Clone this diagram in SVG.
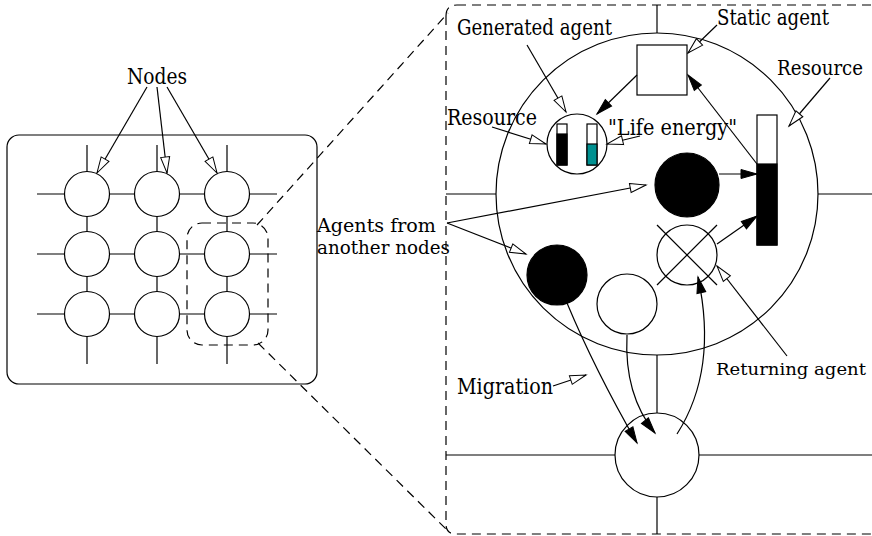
<svg xmlns="http://www.w3.org/2000/svg" width="872" height="536" viewBox="0 0 872 536">
<style>
.s{fill:none;stroke:#000;stroke-width:1.2}
.w{fill:#fff;stroke:#000;stroke-width:1.2}
.b{fill:#000;stroke:#000;stroke-width:1.2}
.d{fill:none;stroke:#000;stroke-width:1.2;stroke-dasharray:9 6}
.af{fill:none;stroke:#000;stroke-width:1.2;marker-end:url(#fa)}
.ao{fill:none;stroke:#000;stroke-width:1.2;marker-end:url(#oa)}
</style>
<defs>
<marker id="fa" markerUnits="userSpaceOnUse" markerWidth="18" markerHeight="10" refX="16" refY="4.5" orient="auto" overflow="visible">
<path d="M0,0 L16,4.5 L0,9 z" fill="#000" stroke="#000" stroke-width="1"/>
</marker>
<marker id="oa" markerUnits="userSpaceOnUse" markerWidth="18" markerHeight="10" refX="16" refY="4.5" orient="auto" overflow="visible">
<path d="M0,0 L16,4.5 L0,9 z" fill="#fff" stroke="#000" stroke-width="1"/>
</marker>
</defs>
<rect width="872" height="536" fill="#fff"/>

<g id="left-panel">
<rect x="7" y="135" width="310" height="249" rx="12" class="s"/>
<g id="grid-lines">
<line x1="37" y1="194" x2="277" y2="194" class="s"/>
<line x1="37" y1="254" x2="277" y2="254" class="s"/>
<line x1="37" y1="314" x2="277" y2="314" class="s"/>
<line x1="87" y1="145" x2="87" y2="364" class="s"/>
<line x1="157" y1="145" x2="157" y2="364" class="s"/>
<line x1="227" y1="145" x2="227" y2="364" class="s"/>
</g>
<g id="n11"><circle cx="87" cy="194" r="22.5" class="w"/></g>
<g id="n12"><circle cx="157" cy="194" r="22.5" class="w"/></g>
<g id="n13"><circle cx="227" cy="194" r="22.5" class="w"/></g>
<g id="n21"><circle cx="87" cy="254" r="22.5" class="w"/></g>
<g id="n22"><circle cx="157" cy="254" r="22.5" class="w"/></g>
<g id="n23"><circle cx="227" cy="254" r="22.5" class="w"/></g>
<g id="n31"><circle cx="87" cy="314" r="22.5" class="w"/></g>
<g id="n32"><circle cx="157" cy="314" r="22.5" class="w"/></g>
<g id="n33"><circle cx="227" cy="314" r="22.5" class="w"/></g>
<rect x="187" y="223" width="81" height="122" rx="15" class="d"/>
<g id="nodes-label" font-family="DejaVu Serif, Liberation Serif, serif" font-size="22"><text x="127" y="84" textLength="60" lengthAdjust="spacingAndGlyphs">Nodes</text></g>
</g>

<g id="zoom-panel">
<path d="M457,5 L872,5 M446,16 L446,524 Q446,534 456,534 L872,534 M446,16 Q446,5 457,5" class="d"/>
<line x1="257" y1="225" x2="448" y2="13" class="d"/>
<line x1="258" y1="343" x2="447" y2="530" class="d"/>
<g id="panel-lines">
<line x1="657" y1="5" x2="657" y2="33" class="s"/>
<line x1="446" y1="194" x2="496" y2="194" class="s"/>
<line x1="818" y1="194" x2="872" y2="194" class="s"/>
<line x1="657" y1="355" x2="657" y2="413" class="s"/>
<line x1="446" y1="455" x2="615" y2="455" class="s"/>
<line x1="699" y1="455" x2="872" y2="455" class="s"/>
<line x1="657" y1="497" x2="657" y2="534" class="s"/>
</g>
<g id="big-node"><circle cx="657" cy="194" r="161" class="s"/></g>
<g id="bottom-node"><circle cx="657" cy="455" r="42" class="s"/></g>
<g id="static-agent"><rect x="637" y="45" width="50" height="50" class="w"/></g>
<g id="generated-agent">
<circle cx="577" cy="144" r="30" class="w"/>
<rect x="557" y="124" width="10" height="41" class="w"/>
<rect x="557" y="134" width="10" height="31" class="b"/>
<rect x="587" y="124" width="10" height="41" class="w"/>
<rect x="587" y="144" width="10" height="21" fill="#009090" stroke="#000" stroke-width="1.2"/>
</g>
<g id="resource-bar">
<rect x="757" y="115" width="20" height="130" class="w"/>
<rect x="757" y="164" width="20" height="81" class="b"/>
</g>
<g id="agent-black-top"><circle cx="687" cy="185" r="32" class="b"/></g>
<g id="returning-agent">
<circle cx="687" cy="255" r="30" class="s"/>
<line x1="657" y1="225" x2="717" y2="285" class="s"/>
<line x1="717" y1="225" x2="657" y2="285" class="s"/>
</g>
<g id="agent-black-left"><circle cx="557" cy="275" r="30" class="b"/></g>
<g id="agent-white"><circle cx="627" cy="304" r="30" class="w"/></g>
</g>

<g id="connectors">
<line x1="147" y1="87" x2="97" y2="173" class="ao"/>
<line x1="157" y1="87" x2="167" y2="173" class="ao"/>
<line x1="167" y1="87" x2="217" y2="173" class="ao"/>
<line x1="637" y1="75" x2="597" y2="114" class="af"/>
<line x1="757" y1="164" x2="688" y2="75" class="af"/>
<line x1="719" y1="174" x2="757" y2="174" class="af"/>
<line x1="717" y1="244" x2="757" y2="216" class="af"/>
<line x1="447" y1="223" x2="646" y2="185" class="ao"/>
<line x1="447" y1="223" x2="526" y2="254" class="ao"/>
<line x1="527" y1="45" x2="566" y2="112" class="ao"/>
<line x1="717" y1="25" x2="688" y2="53" class="ao"/>
<line x1="830" y1="78" x2="789" y2="126" class="ao"/>
<line x1="492" y1="127" x2="546" y2="144" class="ao"/>
<line x1="640" y1="136" x2="607" y2="144" class="ao"/>
<line x1="787" y1="356" x2="717" y2="266" class="ao"/>
<line x1="553" y1="386" x2="586" y2="375" class="ao"/>
<path d="M567,303 Q595,370 637,443" class="af"/>
<path d="M627,335 Q624,395 655,433" class="af"/>
<path d="M677,434 Q718,370 698,277" class="af"/>
</g>

<g id="labels" font-family="DejaVu Serif, Liberation Serif, serif" font-size="22">
<text x="457" y="35" textLength="155" lengthAdjust="spacingAndGlyphs">Generated agent</text>
<text x="717" y="25" textLength="112" lengthAdjust="spacingAndGlyphs">Static agent</text>
<text x="777" y="75" font-size="20" textLength="86" lengthAdjust="spacingAndGlyphs">Resource</text>
<text x="447" y="125" textLength="90" lengthAdjust="spacingAndGlyphs">Resource</text>
<text x="608" y="135" textLength="129" lengthAdjust="spacingAndGlyphs">"Life energy"</text>
<text x="317" y="232" font-size="19" textLength="119" lengthAdjust="spacingAndGlyphs">Agents from</text>
<text x="317" y="254" font-size="19" textLength="133" lengthAdjust="spacingAndGlyphs">another nodes</text>
<text x="716" y="375" font-size="17" textLength="150" lengthAdjust="spacingAndGlyphs">Returning agent</text>
<text x="457" y="394" textLength="96" lengthAdjust="spacingAndGlyphs">Migration</text>
</g>
</svg>
